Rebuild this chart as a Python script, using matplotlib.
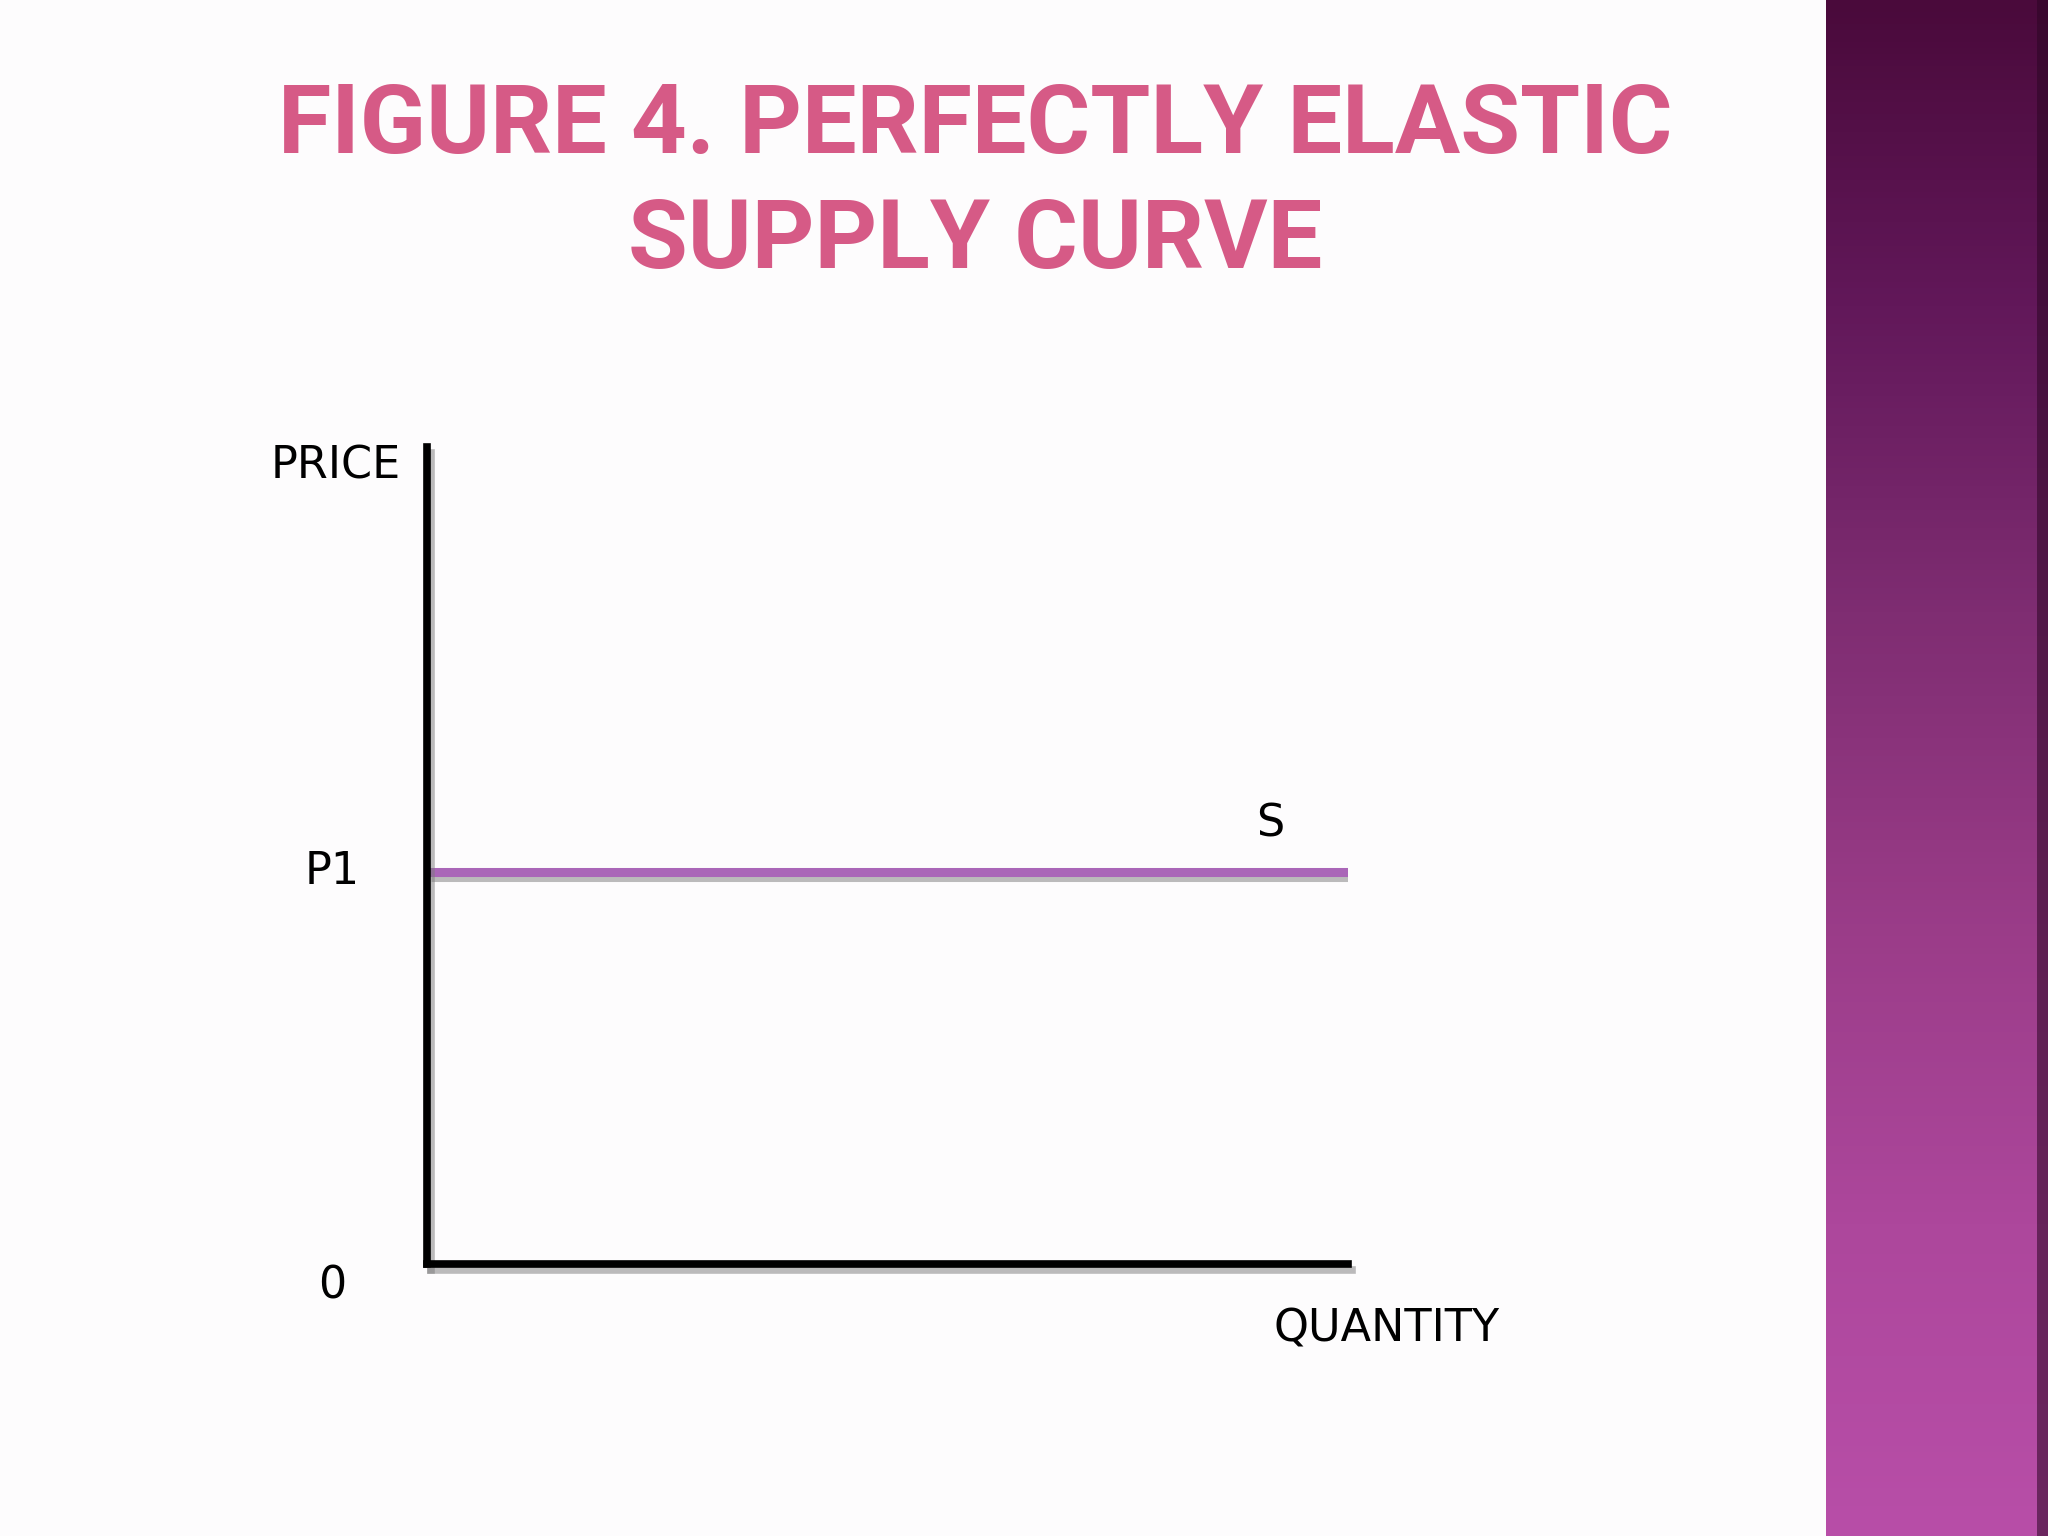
import matplotlib
matplotlib.use("Agg")
import matplotlib.pyplot as plt
import matplotlib.patheffects as pe
from matplotlib.colors import LinearSegmentedColormap
import numpy as np

# dane wykresu
title_lines = ["FIGURE 4. PERFECTLY ELASTIC", "SUPPLY CURVE"]
quantity = [0, 10]
p1 = 4.8
supply_price = [p1, p1]
y_label = "PRICE"
x_label = "QUANTITY"
curve_label = "S"
price_label = "P1"
origin_label = "0"

bg = "#fdfcfd"
title_color = "#d65a86"
supply_color = "#aa66b8"
bar_colors = ["#4a0a3b", "#62185a", "#7f2d72", "#9a3c88", "#ad479c", "#b84ea8"]

fig = plt.figure(figsize=(20.48, 15.36), dpi=100, facecolor=bg)

# pasek z gradientem po prawej
bar_ax = fig.add_axes([1826 / 2048, 0, (2048 - 1826) / 2048, 1])
cmap = LinearSegmentedColormap.from_list("bar", bar_colors)
grad = np.linspace(0, 1, 256).reshape(-1, 1)
bar_ax.imshow(grad, aspect="auto", cmap=cmap, extent=[0, 1, 1, 0])
bar_ax.axvspan(0.95, 1.0, color="#2c0624", alpha=0.55, lw=0)
bar_ax.set_xlim(0, 1)
bar_ax.set_ylim(1, 0)
bar_ax.axis("off")

# tytul
title_font = ["Liberation Sans Narrow", "Roboto", "DejaVu Sans"]
for i, line in enumerate(title_lines):
    fig.text(975 / 2048, 1 - (153 + 115 * i) / 1536, line, ha="center", va="baseline",
             fontsize=70, fontweight="bold", color=title_color, family=title_font)

# wykres podazy
ax = fig.add_axes([427 / 2048, 1 - 1264 / 1536, (1348 - 427) / 2048, (1264 - 447) / 1536])
ax.set_facecolor("none")
ax.set_xlim(0, 10)
ax.set_ylim(0, 10)

shadow = [pe.SimpleLineShadow(offset=(3, -4), shadow_color="#7a7a7a", alpha=0.5), pe.Normal()]
ax.plot(quantity, supply_price, color=supply_color, lw=6.5, solid_capstyle="butt",
        path_effects=shadow, zorder=3)

for side in ["top", "right"]:
    ax.spines[side].set_visible(False)
for side in ["left", "bottom"]:
    ax.spines[side].set_linewidth(5.5)
    ax.spines[side].set_color("black")
    ax.spines[side].set_capstyle("projecting")
    ax.spines[side].set_path_effects(shadow)
    ax.spines[side].set_zorder(4)
ax.set_xticks([])
ax.set_yticks([])

fs = 32
ax.text(-0.28, 9.77, y_label, ha="right", va="center", fontsize=fs, clip_on=False)
ax.text(-1.03, p1, price_label, ha="center", va="center", fontsize=fs, clip_on=False)
ax.text(-1.03, -0.27, origin_label, ha="center", va="center", fontsize=fs, clip_on=False)
ax.text(9.16, 5.39, curve_label, ha="center", va="center", fontsize=fs, clip_on=False)
ax.text(9.19, -0.80, x_label, ha="left", va="center", fontsize=fs, clip_on=False)

fig.savefig("out.png", dpi=100, facecolor=bg)
